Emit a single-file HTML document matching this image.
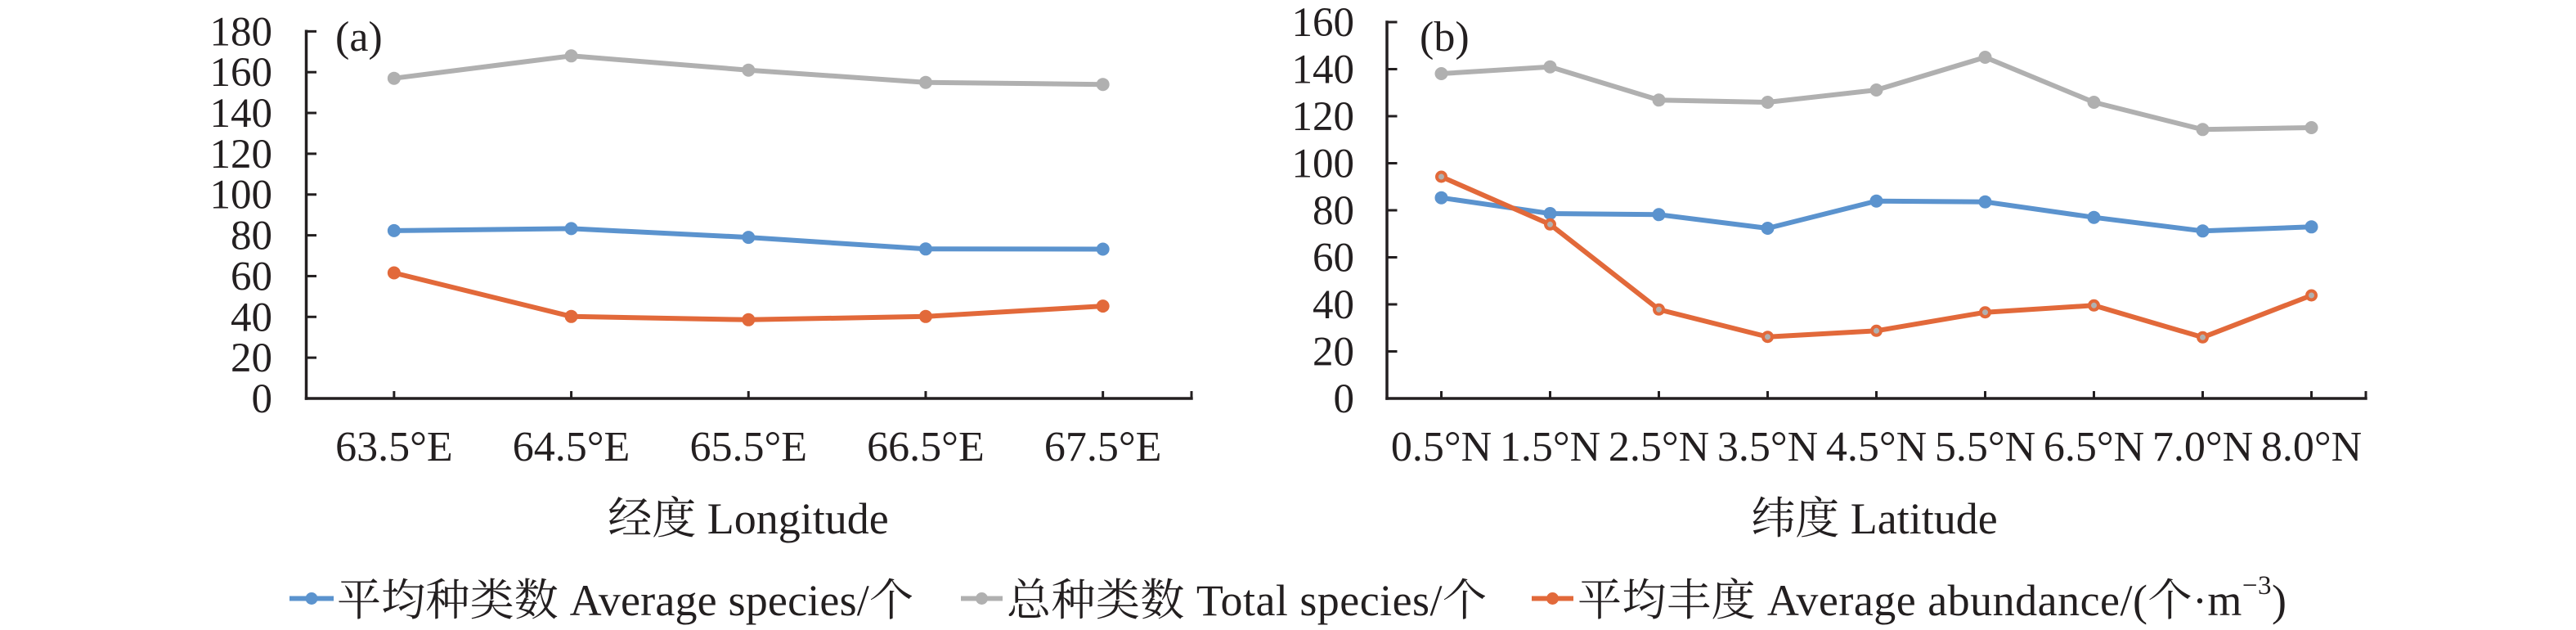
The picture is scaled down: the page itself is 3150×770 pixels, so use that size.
<!DOCTYPE html>
<html><head><meta charset="utf-8"><style>
html,body{margin:0;padding:0;background:#fff;}
svg{display:block;}
text{font-family:"Liberation Serif","Noto Serif CJK SC",serif;fill:#231f20;}
</style></head><body>
<svg width="3150" height="770" viewBox="0 0 3150 770" xmlns="http://www.w3.org/2000/svg">
<rect width="3150" height="770" fill="#fff"/>

<!-- Panel (a) axes -->
<g stroke="#231f20" stroke-width="3.5" fill="none">
<line x1="374.5" y1="36.5" x2="374.5" y2="488.7"/>
<line x1="372.8" y1="487" x2="1458.7" y2="487"/>
</g>
<g stroke="#231f20" stroke-width="3" fill="none">
<line x1="374.5" y1="38.35" x2="387" y2="38.35"/>
<line x1="374.5" y1="88.2" x2="387" y2="88.2"/>
<line x1="374.5" y1="138.05" x2="387" y2="138.05"/>
<line x1="374.5" y1="187.9" x2="387" y2="187.9"/>
<line x1="374.5" y1="237.75" x2="387" y2="237.75"/>
<line x1="374.5" y1="287.6" x2="387" y2="287.6"/>
<line x1="374.5" y1="337.45" x2="387" y2="337.45"/>
<line x1="374.5" y1="387.3" x2="387" y2="387.3"/>
<line x1="374.5" y1="437.15" x2="387" y2="437.15"/>
<line x1="481.85" y1="478" x2="481.85" y2="487"/>
<line x1="698.55" y1="478" x2="698.55" y2="487"/>
<line x1="915.25" y1="478" x2="915.25" y2="487"/>
<line x1="1131.95" y1="478" x2="1131.95" y2="487"/>
<line x1="1348.65" y1="478" x2="1348.65" y2="487"/>
<line x1="1457" y1="478" x2="1457" y2="487"/>
</g>
<g font-size="51" text-anchor="end">
<text x="333" y="55.3">180</text>
<text x="333" y="105.2">160</text>
<text x="333" y="155">140</text>
<text x="333" y="204.9">120</text>
<text x="333" y="254.7">100</text>
<text x="333" y="304.6">80</text>
<text x="333" y="354.5">60</text>
<text x="333" y="404.3">40</text>
<text x="333" y="454.2">20</text>
<text x="333" y="504">0</text>
</g>
<g font-size="52" text-anchor="middle">
<text x="481.85" y="563">63.5°E</text>
<text x="698.55" y="563">64.5°E</text>
<text x="915.25" y="563">65.5°E</text>
<text x="1131.95" y="563">66.5°E</text>
<text x="1348.65" y="563">67.5°E</text>
</g>
<text x="915" y="652" font-size="54" text-anchor="middle">经度 Longitude</text>
<text x="410" y="62" font-size="52">(a)</text>

<!-- Panel (a) series -->
<g fill="none" stroke-width="6" stroke-linejoin="round">
<polyline stroke="#5b93ce" points="481.85,281.9 698.55,279.4 915.25,290.1 1131.95,304.3 1348.65,304.5"/>
<polyline stroke="#b0b0b0" points="481.85,95.7 698.55,68.3 915.25,85.7 1131.95,100.7 1348.65,103.2"/>
<polyline stroke="#e2693a" points="481.85,333.5 698.55,386.8 915.25,390.8 1131.95,386.8 1348.65,374.1"/>
</g>
<g fill="#5b93ce">
<circle cx="481.85" cy="281.9" r="8"/><circle cx="698.55" cy="279.4" r="8"/><circle cx="915.25" cy="290.1" r="8"/><circle cx="1131.95" cy="304.3" r="8"/><circle cx="1348.65" cy="304.5" r="8"/>
</g>
<g fill="#b0b0b0">
<circle cx="481.85" cy="95.7" r="8"/><circle cx="698.55" cy="68.3" r="8"/><circle cx="915.25" cy="85.7" r="8"/><circle cx="1131.95" cy="100.7" r="8"/><circle cx="1348.65" cy="103.2" r="8"/>
</g>
<g fill="#e2693a">
<circle cx="481.85" cy="333.5" r="8"/><circle cx="698.55" cy="386.8" r="8"/><circle cx="915.25" cy="390.8" r="8"/><circle cx="1131.95" cy="386.8" r="8"/><circle cx="1348.65" cy="374.1" r="8"/>
</g>

<!-- Panel (b) axes -->
<g stroke="#231f20" stroke-width="3.5" fill="none">
<line x1="1696" y1="25.3" x2="1696" y2="488.7"/>
<line x1="1694.3" y1="487" x2="2894.7" y2="487"/>
</g>
<g stroke="#231f20" stroke-width="3" fill="none">
<line x1="1696" y1="27" x2="1708.5" y2="27"/>
<line x1="1696" y1="84.5" x2="1708.5" y2="84.5"/>
<line x1="1696" y1="142" x2="1708.5" y2="142"/>
<line x1="1696" y1="199.5" x2="1708.5" y2="199.5"/>
<line x1="1696" y1="257" x2="1708.5" y2="257"/>
<line x1="1696" y1="314.5" x2="1708.5" y2="314.5"/>
<line x1="1696" y1="372" x2="1708.5" y2="372"/>
<line x1="1696" y1="429.5" x2="1708.5" y2="429.5"/>
<line x1="1762.5" y1="478" x2="1762.5" y2="487"/>
<line x1="1895.5" y1="478" x2="1895.5" y2="487"/>
<line x1="2028.5" y1="478" x2="2028.5" y2="487"/>
<line x1="2161.5" y1="478" x2="2161.5" y2="487"/>
<line x1="2294.5" y1="478" x2="2294.5" y2="487"/>
<line x1="2427.5" y1="478" x2="2427.5" y2="487"/>
<line x1="2560.5" y1="478" x2="2560.5" y2="487"/>
<line x1="2693.5" y1="478" x2="2693.5" y2="487"/>
<line x1="2826.5" y1="478" x2="2826.5" y2="487"/>
<line x1="2893" y1="478" x2="2893" y2="487"/>
</g>
<g font-size="51" text-anchor="end">
<text x="1656" y="44">160</text>
<text x="1656" y="101.5">140</text>
<text x="1656" y="159">120</text>
<text x="1656" y="216.5">100</text>
<text x="1656" y="274">80</text>
<text x="1656" y="331.5">60</text>
<text x="1656" y="389">40</text>
<text x="1656" y="446.5">20</text>
<text x="1656" y="504">0</text>
</g>
<g font-size="52" text-anchor="middle">
<text x="1762.5" y="563">0.5°N</text>
<text x="1895.5" y="563">1.5°N</text>
<text x="2028.5" y="563">2.5°N</text>
<text x="2161.5" y="563">3.5°N</text>
<text x="2294.5" y="563">4.5°N</text>
<text x="2427.5" y="563">5.5°N</text>
<text x="2560.5" y="563">6.5°N</text>
<text x="2693.5" y="563">7.0°N</text>
<text x="2826.5" y="563">8.0°N</text>
</g>
<text x="2292" y="652" font-size="54" text-anchor="middle">纬度 Latitude</text>
<text x="1736" y="62" font-size="52">(b)</text>

<!-- Panel (b) series -->
<g fill="none" stroke-width="6" stroke-linejoin="round">
<polyline stroke="#5b93ce" points="1762.5,241.7 1895.5,261 2028.5,262.3 2161.5,279 2294.5,245.7 2427.5,246.7 2560.5,265.7 2693.5,282.3 2826.5,277.3"/>
<polyline stroke="#b0b0b0" points="1762.5,90 1895.5,81.7 2028.5,122.3 2161.5,125 2294.5,110 2427.5,70 2560.5,125 2693.5,158.3 2826.5,156"/>
<polyline stroke="#e2693a" points="1762.5,216 1895.5,274.3 2028.5,378.3 2161.5,411.7 2294.5,404.3 2427.5,381.7 2560.5,373.3 2693.5,412.3 2826.5,361"/>
</g>
<g fill="#5b93ce">
<circle cx="1762.5" cy="241.7" r="8"/><circle cx="1895.5" cy="261" r="8"/><circle cx="2028.5" cy="262.3" r="8"/><circle cx="2161.5" cy="279" r="8"/><circle cx="2294.5" cy="245.7" r="8"/><circle cx="2427.5" cy="246.7" r="8"/><circle cx="2560.5" cy="265.7" r="8"/><circle cx="2693.5" cy="282.3" r="8"/><circle cx="2826.5" cy="277.3" r="8"/>
</g>
<g fill="#b0b0b0">
<circle cx="1762.5" cy="90" r="8"/><circle cx="1895.5" cy="81.7" r="8"/><circle cx="2028.5" cy="122.3" r="8"/><circle cx="2161.5" cy="125" r="8"/><circle cx="2294.5" cy="110" r="8"/><circle cx="2427.5" cy="70" r="8"/><circle cx="2560.5" cy="125" r="8"/><circle cx="2693.5" cy="158.3" r="8"/><circle cx="2826.5" cy="156" r="8"/>
</g>
<g fill="#b0b0b0" stroke="#e2693a" stroke-width="4">
<circle cx="1762.5" cy="216" r="5.5"/><circle cx="1895.5" cy="274.3" r="5.5"/><circle cx="2028.5" cy="378.3" r="5.5"/><circle cx="2161.5" cy="411.7" r="5.5"/><circle cx="2294.5" cy="404.3" r="5.5"/><circle cx="2427.5" cy="381.7" r="5.5"/><circle cx="2560.5" cy="373.3" r="5.5"/><circle cx="2693.5" cy="412.3" r="5.5"/><circle cx="2826.5" cy="361" r="5.5"/>
</g>

<!-- Legend -->
<g stroke-width="6">
<line x1="354" y1="731.5" x2="408" y2="731.5" stroke="#5b93ce"/>
<line x1="1175" y1="731.5" x2="1226" y2="731.5" stroke="#b0b0b0"/>
<line x1="1873" y1="731.5" x2="1924" y2="731.5" stroke="#e2693a"/>
</g>
<circle cx="381" cy="731.5" r="7.5" fill="#5b93ce"/>
<circle cx="1200.5" cy="731.5" r="7.5" fill="#b0b0b0"/>
<circle cx="1898.5" cy="731.5" r="7.5" fill="#e2693a"/>
<g font-size="54">
<text x="412" y="752" textLength="705" lengthAdjust="spacing">平均种类数 Average species/个</text>
<text x="1231" y="752" textLength="587" lengthAdjust="spacing">总种类数 Total species/个</text>
<text x="1929" y="752" textLength="867" lengthAdjust="spacing">平均丰度 Average abundance/(个·m<tspan font-size="33" dy="-26">−3</tspan><tspan dy="26">)</tspan></text>
</g>
</svg>
</body></html>
